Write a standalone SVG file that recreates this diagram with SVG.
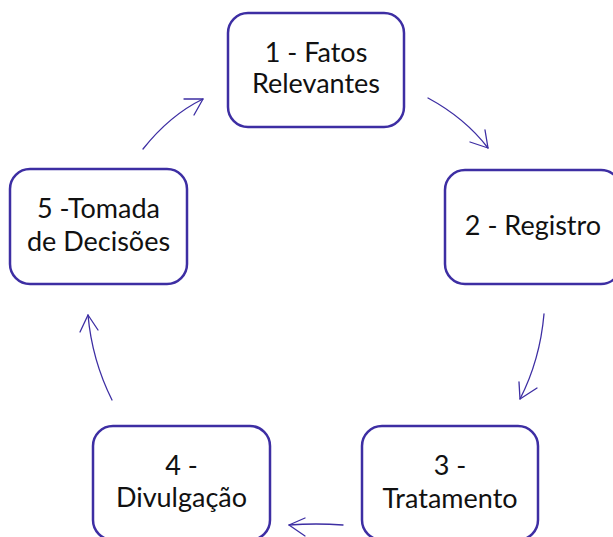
<svg xmlns="http://www.w3.org/2000/svg" width="613" height="537" viewBox="0 0 613 537">
<style>
.node rect{fill:#fff;stroke:#3d2ea3;stroke-width:2.5}
.node text{font-family:Lato,"Noto Sans",sans-serif;font-size:27px;fill:#111;text-anchor:middle}
.edge path{fill:none;stroke:#3d2ea3;stroke-width:1.3;stroke-linecap:round;stroke-linejoin:round}
</style>
<rect width="613" height="537" fill="#fff"/>
<g id="node1" class="node"><rect x="228" y="13" width="176" height="114" rx="20"/><text x="316" y="62">1 - Fatos</text><text x="316" y="93">Relevantes</text></g>
<g id="node2" class="node"><rect x="445" y="170" width="176" height="114" rx="20"/><text x="533" y="235">2 - Registro</text></g>
<g id="node3" class="node"><rect x="362" y="426" width="176" height="114" rx="20"/><text x="450" y="475">3 -</text><text x="450" y="508">Tratamento</text></g>
<g id="node4" class="node"><rect x="93" y="426" width="177" height="114" rx="20"/><text x="181.5" y="475">4 -</text><text x="181.5" y="507">Divulgação</text></g>
<g id="node5" class="node"><rect x="10" y="169" width="177" height="115" rx="20"/><text x="98.5" y="218">5 -Tomada</text><text x="98.5" y="251">de Decisões</text></g>
<g id="connectors" class="edge">
<path d="M428,98 Q465,118 488,148"/><path d="M470,142 L488,148 L485,130"/>
<path d="M544,314 Q540,360 520,399"/><path d="M537,388 L520,399 L519,382"/>
<path d="M343,525 Q316,523 289,525"/><path d="M305,518 L289,525 L305,536"/>
<path d="M112,400 Q92,360 88,315"/><path d="M80,332 L88,315 L98,330"/>
<path d="M143,149 Q170,115 203,99"/><path d="M184,99 L203,99 L194,115"/>
</g>
</svg>
